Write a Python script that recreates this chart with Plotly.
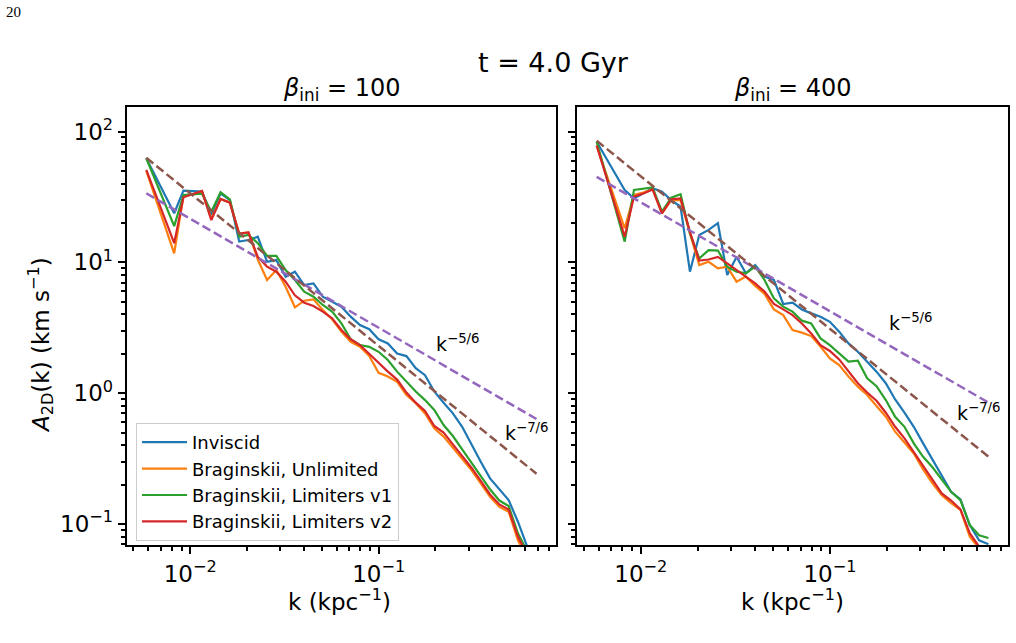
import plotly.graph_objects as go

# ---------------- data ----------------
k_vals = [0.005848, 0.008222, 0.009209, 0.010315, 0.011553, 0.012940, 0.014494, 0.016234,
          0.018197, 0.020384, 0.022834, 0.025575, 0.028645, 0.032088, 0.035940, 0.040264,
          0.045102, 0.050523, 0.056624, 0.063430, 0.071055, 0.079595, 0.089159, 0.099885,
          0.11188, 0.12531, 0.14040, 0.15729, 0.17620, 0.19733, 0.22109, 0.24766, 0.27740,
          0.31074, 0.34815, 0.38994, 0.43686, 0.48942, 0.54828, 0.61418, 0.68802]

# beta_ini = 100
b100_inviscid = [62.4, 23.7, 35.3, 35.1, 34.7, 23.0, 33.7, 29.9, 14.4, 14.8, 15.7, 10.1, 10.4, 7.76,
                 8.48, 6.70, 6.90, 5.46, 5.00, 4.58, 3.84, 3.32, 3.08, 2.58, 2.40, 2.01, 1.92, 1.55,
                 1.37, 1.03, 0.845, 0.700, 0.553, 0.401, 0.299, 0.223, 0.184, 0.152, 0.104, 0.067, 0.048]
b100_unlimited = [50.0, 11.7, 32.2, 33.1, 34.7, 21.5, 30.5, 28.6, 16.6, 16.9, 10.5, 7.33, 8.73, 6.51,
                  4.53, 5.09, 5.21, 4.32, 3.67, 2.95, 2.47, 2.26, 1.92, 1.43, 1.34, 1.22, 0.968, 0.836,
                  0.700, 0.538, 0.465, 0.383, 0.317, 0.258, 0.204, 0.161, 0.135, 0.124, 0.075, 0.055, 0.040]
b100_lim_v1 = [62.4, 18.9, 32.7, 33.1, 33.5, 24.4, 34.3, 30.3, 15.7, 16.2, 14.0, 11.2, 11.2, 8.73,
               7.33, 5.97, 5.46, 4.72, 4.20, 3.41, 2.58, 2.33, 2.26, 2.07, 1.79, 1.46, 1.22, 1.03,
               0.885, 0.743, 0.570, 0.470, 0.372, 0.294, 0.232, 0.184, 0.151, 0.137, 0.0848, 0.063, 0.045]
b100_lim_v2 = [50.8, 14.0, 31.4, 33.1, 35.1, 21.0, 30.5, 28.6, 16.6, 16.9, 11.0, 9.27, 8.48, 7.11,
               5.6, 4.91, 4.63, 4.20, 3.73, 3.04, 2.58, 2.33, 1.99, 1.71, 1.46, 1.27, 1.01, 0.845,
               0.730, 0.561, 0.499, 0.406, 0.330, 0.269, 0.213, 0.168, 0.141, 0.129, 0.080, 0.058, 0.042]

# beta_ini = 400
b400_inviscid = [83.6, 35.7, 30.8, 33.6, 36.8, 34.7, 29.9, 26.6, 8.48, 16.2, 17.7, 19.9, 8.0, 11.0,
                 8.24, 9.54, 7.77, 7.33, 4.80, 4.91, 4.36, 4.07, 3.84, 3.51, 2.95, 2.40, 2.07, 1.74,
                 1.46, 1.19, 0.895, 0.708, 0.553, 0.413, 0.308, 0.230, 0.176, 0.154, 0.098, 0.075, 0.070]
b400_unlimited = [77.9, 18.2, 32.7, 34.1, 36.1, 23.7, 29.9, 29.9, 16.6, 9.54, 10.1, 9.0, 9.26, 7.11,
                  7.77, 6.6, 5.73, 4.37, 3.95, 3.04, 2.90, 2.73, 2.27, 1.84, 1.64, 1.34, 1.12, 0.968,
                  0.797, 0.660, 0.507, 0.418, 0.346, 0.261, 0.204, 0.166, 0.144, 0.128, 0.080, 0.065, 0.048]
b400_lim_v1 = [83.6, 14.4, 35.7, 36.6, 37.4, 24.4, 31.2, 33.1, 16.6, 10.7, 12.4, 12.3, 9.26, 8.48,
               8.24, 9.26, 7.33, 5.31, 4.58, 4.20, 3.58, 3.41, 2.62, 2.33, 2.01, 1.74, 1.77, 1.30,
               1.13, 0.885, 0.660, 0.553, 0.413, 0.326, 0.271, 0.217, 0.176, 0.152, 0.098, 0.082, 0.078]
b400_lim_v2 = [77.9, 15.7, 31.8, 33.6, 36.1, 23.7, 30.3, 30.8, 17.1, 10.3, 10.5, 11.0, 9.82, 8.73,
               7.77, 6.90, 5.97, 4.80, 4.37, 3.95, 3.41, 2.86, 2.33, 2.10, 1.81, 1.48, 1.19, 1.01,
               0.875, 0.708, 0.553, 0.451, 0.356, 0.277, 0.217, 0.171, 0.151, 0.129, 0.085, 0.067, 0.050]

# reference power-law guides (values at the two end k's)
guide_k = [0.005848, 0.68802]
b100_k76 = [63.0, 0.242]
b100_k56 = [33.7, 0.634]
b400_k76 = [85.0, 0.327]
b400_k56 = [45.0, 0.847]

series_names = ["Inviscid", "Braginskii, Unlimited", "Braginskii, Limiters v1", "Braginskii, Limiters v2"]
series_colors = ["#1f77b4", "#ff7f0e", "#2ca02c", "#d62728"]

x_tick_vals = [0.01, 0.1]
x_tick_text = ["10<sup>−2</sup>", "10<sup>−1</sup>"]
y_tick_vals = [0.1, 1, 10, 100]
y_tick_text = ["10<sup>−1</sup>", "10<sup>0</sup>", "10<sup>1</sup>", "10<sup>2</sup>"]

# ---------------- figure ----------------
W, H = 1016, 643
FONT = "DejaVu Sans"

def px(x):
    return x / W

def py(y):
    return 1 - y / H

fig = go.Figure()

panels = [
    ("x", "y", [b100_inviscid, b100_unlimited, b100_lim_v1, b100_lim_v2], b100_k76, b100_k56, True),
    ("x2", "y2", [b400_inviscid, b400_unlimited, b400_lim_v1, b400_lim_v2], b400_k76, b400_k56, False),
]

for xa, ya, sers, g76, g56, show in panels:
    for name, col, vals in zip(series_names, series_colors, sers):
        fig.add_trace(go.Scatter(x=k_vals, y=vals, mode="lines", name=name,
                                 line=dict(color=col, width=2.2), showlegend=show,
                                 xaxis=xa, yaxis=ya))
    fig.add_trace(go.Scatter(x=guide_k, y=g56, mode="lines", showlegend=False,
                             line=dict(color="#9467bd", width=2.5, dash="9px,4px"),
                             xaxis=xa, yaxis=ya))
    fig.add_trace(go.Scatter(x=guide_k, y=g76, mode="lines", showlegend=False,
                             line=dict(color="#8c564b", width=2.5, dash="9px,4px"),
                             xaxis=xa, yaxis=ya))

minor_x = [m * 10.0 ** e for e in range(-3, 1) for m in range(2, 10)]
minor_y = [m * 10.0 ** e for e in range(-2, 3) for m in range(2, 10)]

axis_common = dict(type="log", showline=True, mirror=True, linecolor="black", linewidth=2,
                   ticks="outside", ticklen=7, tickwidth=2, tickcolor="black",
                   showgrid=False, zeroline=False,
                   tickfont=dict(family=FONT, size=23, color="black"))

minor_common = dict(tickmode="array", ticks="outside", ticklen=4,
                    tickwidth=1.5, tickcolor="black", showgrid=False)

xdom_l = [px(126.7), px(556)]
xdom_r = [px(577), px(1008)]
ydom = [py(545), py(107.3)]
xr = [-2.337, -0.059]
yr = [-1.161, 2.185]

fig.update_layout(
    width=W, height=H, margin=dict(l=0, r=0, t=0, b=0),
    paper_bgcolor="white", plot_bgcolor="white",
    font=dict(family=FONT, color="black"),
    xaxis=dict(axis_common, domain=xdom_l, range=xr, tickmode="array",
               tickvals=x_tick_vals, ticktext=x_tick_text,
               minor=dict(minor_common, tickvals=minor_x)),
    xaxis2=dict(axis_common, domain=xdom_r, range=xr, anchor="y2", tickmode="array",
                tickvals=x_tick_vals, ticktext=x_tick_text,
                minor=dict(minor_common, tickvals=minor_x)),
    yaxis=dict(axis_common, domain=ydom, range=yr, tickmode="array",
               tickvals=y_tick_vals, ticktext=y_tick_text,
               minor=dict(minor_common, tickvals=minor_y)),
    yaxis2=dict(axis_common, domain=ydom, range=yr, anchor="x2", tickmode="array",
                tickvals=y_tick_vals, showticklabels=False,
                minor=dict(minor_common, tickvals=minor_y)),
    legend=dict(x=px(136), y=py(423), xanchor="left", yanchor="top",
                bgcolor="rgba(255,255,255,0.8)", bordercolor="#cccccc", borderwidth=1,
                itemwidth=45,
                font=dict(family=FONT, size=18, color="black")),
)

def ann(text, x, y, size, family=FONT, angle=0):
    fig.add_annotation(text=text, x=px(x), y=py(y), xref="paper", yref="paper",
                       xanchor="center", yanchor="middle", showarrow=False, textangle=angle,
                       font=dict(family=family, size=size, color="black"))

ann("20", 13, 12, 15, family="Liberation Serif")
ann("t = 4.0 Gyr", 553, 62, 27)
ann("<i>β</i><sub>ini</sub> = 100", 341, 90, 24)
ann("<i>β</i><sub>ini</sub> = 400", 792, 90, 24)
ann("k (kpc<sup>−1</sup>)", 339, 600, 23)
ann("k (kpc<sup>−1</sup>)", 792, 600, 23)
ann("<i>A</i><sub>2D</sub>(k) (km s<sup>−1</sup>)", 40, 345, 23, angle=-90)
ann("k<sup>−5/6</sup>", 458, 343, 19)
ann("k<sup>−7/6</sup>", 527, 432, 19)
ann("k<sup>−5/6</sup>", 911, 322, 19)
ann("k<sup>−7/6</sup>", 979, 412, 19)

fig.write_html("out.html")
